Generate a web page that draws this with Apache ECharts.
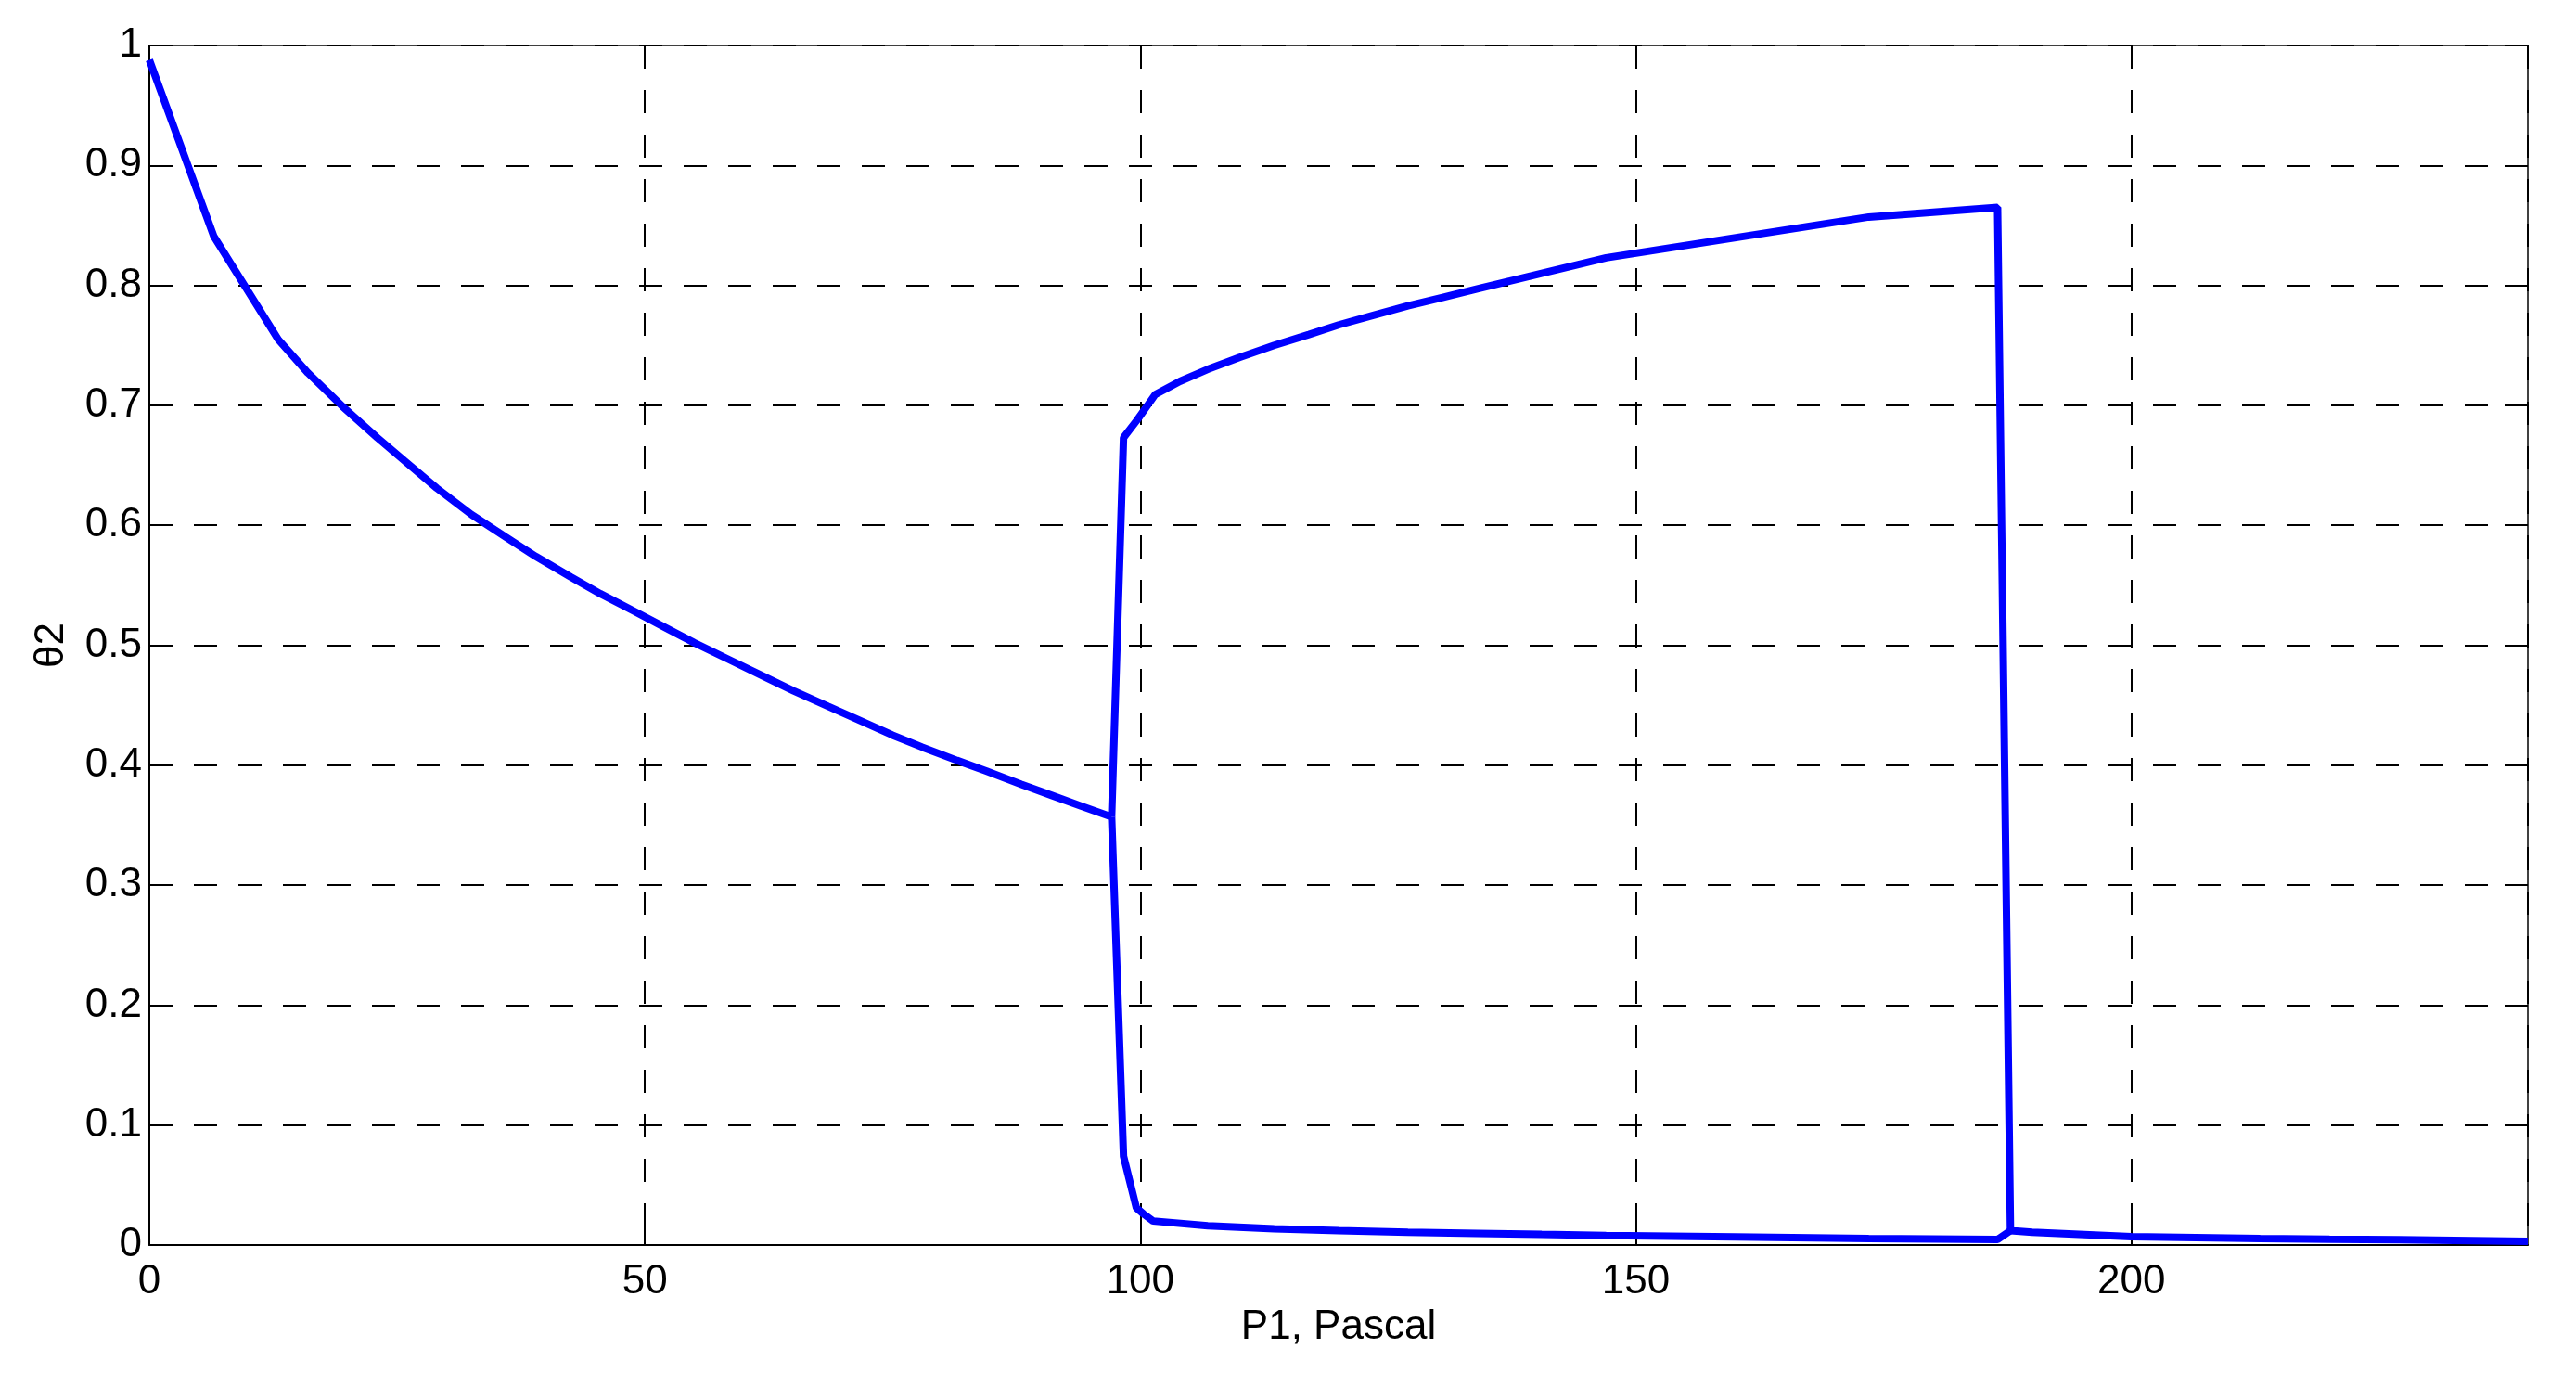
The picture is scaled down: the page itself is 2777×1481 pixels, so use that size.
<!DOCTYPE html>
<html>
<head>
<meta charset="utf-8">
<script src="https://cdn.jsdelivr.net/npm/echarts@6/dist/echarts.min.js"></script>
<style>
html,body{margin:0;padding:0;background:#fff;}
#chart{width:2777px;height:1481px;}
</style>
</head>
<body>
<div id="chart"></div>
<script>
// Upper-left branch (theta2 decreasing with P1)
const branch1P = [0, 6.5, 13, 16, 19.5, 23, 26, 29, 32.5, 36, 39, 42.5, 45.5, 49, 52, 55, 58.5, 62, 65, 68.5, 71.5, 75, 78, 81.5, 84.5, 88, 91, 94, 97.1];
const branch1T = [0.988, 0.841, 0.755, 0.727, 0.699, 0.673, 0.652, 0.631, 0.609, 0.590, 0.574, 0.557, 0.543, 0.528, 0.515, 0.502, 0.488, 0.474, 0.462, 0.449, 0.438, 0.425, 0.415, 0.404, 0.395, 0.384, 0.375, 0.366, 0.357];

// Upper branch after the fold, drop at ~187.8, then tail
const upperP = [97.1, 98.3, 99.7, 101.5, 104, 106.8, 110, 113.5, 117, 120, 123.5, 127, 130.5, 134, 137.5, 140.5, 144, 147, 173.5, 186.5, 187.8, 190, 200, 213, 220, 227, 240];
const upperT = [0.357, 0.673, 0.688, 0.709, 0.720, 0.730, 0.740, 0.750, 0.759, 0.767, 0.775, 0.783, 0.790, 0.797, 0.804, 0.810, 0.817, 0.823, 0.857, 0.865, 0.012, 0.0107, 0.007, 0.0055, 0.0048, 0.0045, 0.003];

// Lower branch after the fold
const lowerP = [97.1, 98.3, 99.6, 100.3, 101.3, 106.8, 113.5, 120, 127, 134, 140.5, 147, 160, 173.5, 186.5, 187.8];
const lowerT = [0.357, 0.074, 0.031, 0.026, 0.020, 0.016, 0.0135, 0.012, 0.0107, 0.0097, 0.0088, 0.0080, 0.0068, 0.0055, 0.0046, 0.012];

// Axis ticks
const xTicks = [0, 50, 100, 150, 200];
const yTicks = [0, 0.1, 0.2, 0.3, 0.4, 0.5, 0.6, 0.7, 0.8, 0.9, 1];
const xMin = 0, xMax = 240, xStep = 50;
const yMin = 0, yMax = 1, yStep = 0.1;

const xLabel = 'P1, Pascal';
const yLabel = '\u03b82';

function pairs(xs, ys) { return xs.map((x, i) => [x, ys[i]]); }

const FONT = 'Liberation Sans, Arial, sans-serif';
const gridDash = { type: [25, 23], color: '#000', width: 2 };

const baseX = {
  type: 'value', min: xMin, max: xMax, interval: xStep,
  axisLine: { show: true, onZero: false, lineStyle: { color: '#000', width: 2 } },
  axisTick: { show: true, inside: true, length: 25, lineStyle: { color: '#000', width: 2 } },
};
const baseY = {
  type: 'value', min: yMin, max: yMax, interval: yStep,
  axisLine: { show: true, onZero: false, lineStyle: { color: '#000', width: 2 } },
  axisTick: { show: true, inside: true, length: 25, lineStyle: { color: '#000', width: 2 } },
};

const lineStyle = { color: '#0000ff', width: 8 };

const chart = echarts.init(document.getElementById('chart'), null, { renderer: 'canvas' });
chart.setOption({
  animation: false,
  backgroundColor: '#fff',
  grid: { left: 161, top: 49, right: 52, bottom: 139, containLabel: false },
  xAxis: [
    Object.assign({}, baseX, {
      position: 'bottom',
      name: xLabel, nameLocation: 'middle', nameGap: 62,
      nameTextStyle: { fontFamily: FONT, fontSize: 44, color: '#000' },
      axisLabel: {
        show: true, margin: 18, fontFamily: FONT, fontSize: 44, color: '#000',
        showMaxLabel: false,
        formatter: v => (xTicks.indexOf(v) >= 0 ? String(v) : '')
      },
      splitLine: { show: true, lineStyle: gridDash },
    }),
    Object.assign({}, baseX, {
      position: 'top',
      axisLine: { show: true, onZero: false, lineStyle: { color: '#000', width: 1.5 } },
      axisLabel: { show: false },
      splitLine: { show: false },
    }),
  ],
  yAxis: [
    Object.assign({}, baseY, {
      position: 'left',
      name: yLabel, nameLocation: 'middle', nameGap: 83, nameRotate: 90,
      nameTextStyle: { fontFamily: FONT, fontSize: 44, color: '#000' },
      axisLabel: {
        show: true, margin: 8, fontFamily: FONT, fontSize: 44, color: '#000',
        formatter: v => {
          const t = yTicks.find(k => Math.abs(k - v) < 1e-9);
          return t === undefined ? '' : String(t);
        }
      },
      splitLine: { show: true, lineStyle: gridDash },
    }),
    Object.assign({}, baseY, {
      position: 'right',
      axisLine: { show: true, onZero: false, lineStyle: { color: '#000', width: 1.5 } },
      axisLabel: { show: false },
      splitLine: { show: false },
    }),
  ],
  series: [
    {
      type: 'line', xAxisIndex: 0, yAxisIndex: 0, data: pairs(branch1P, branch1T),
      showSymbol: false, symbol: 'none', lineStyle: lineStyle, z: 5
    },
    {
      type: 'line', xAxisIndex: 0, yAxisIndex: 0, data: pairs(upperP, upperT),
      showSymbol: false, symbol: 'none', lineStyle: lineStyle, z: 5
    },
    {
      type: 'line', xAxisIndex: 0, yAxisIndex: 0, data: pairs(lowerP, lowerT),
      showSymbol: false, symbol: 'none', lineStyle: lineStyle, z: 5
    }
  ]
});
</script>
</body>
</html>
